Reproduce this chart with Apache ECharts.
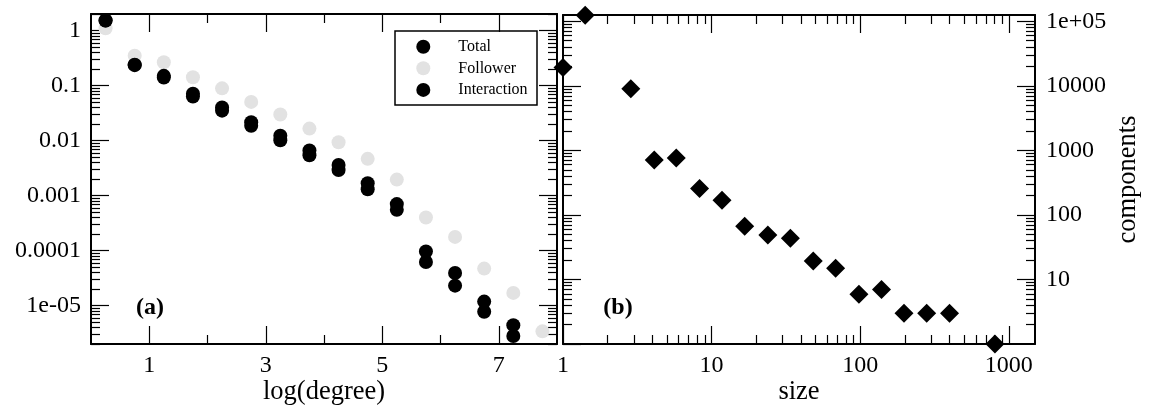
<!DOCTYPE html>
<html><head><meta charset="utf-8">
<script src="https://cdn.jsdelivr.net/npm/echarts@6/dist/echarts.min.js"></script>
<style>html,body{margin:0;padding:0;background:#fff}#c{width:1155px;height:407px}</style>
</head><body><div id="c"></div>
<script>
// ---------- data (a): degree distributions ----------
const degreeX      = [0.25,0.75,1.25,1.75,2.25,2.75,3.25,3.75,4.25,4.75,5.25,5.75,6.25,6.75,7.25];
const totalY       = [1.52,0.24,0.15,0.071,0.040,0.0215,0.0122,0.0066,0.0036,0.00167,0.0007,9.6e-5,3.9e-5,1.18e-5,4.4e-6];
const interactionY = [1.52,0.235,0.14,0.063,0.035,0.0185,0.0101,0.0054,0.0029,0.0013,0.00055,6.2e-5,2.3e-5,7.7e-6,2.8e-6];
const followerX    = [0.25,0.75,1.25,1.75,2.25,2.75,3.25,3.75,4.25,4.75,5.25,5.75,6.25,6.75,7.25,7.75];
const followerY    = [1.1,0.35,0.265,0.142,0.089,0.0505,0.0297,0.0165,0.0093,0.00465,0.00195,0.0004,0.000177,4.7e-5,1.7e-5,3.4e-6];
// ---------- data (b): component sizes ----------
const componentSize  = [1.41,1,2.86,4.11,5.78,8.3,11.75,16.7,23.9,33.9,48.3,68.3,98,139,197,280,399,806];
const componentCount = [124000,19200,8980,707,760,257,169,67,49,43.5,19.3,14.9,5.9,7.0,3,3,3,1];
// ---------- tick labels ----------
const degreeMajor = [1,3,5,7];
const degreeMinor = [2,4,6];
const probTicks   = [1e-5,1e-4,1e-3,0.01,0.1,1];
const probLabels  = ['1e-05','0.0001','0.001','0.01','0.1','1'];
const sizeTicks   = [1,10,100,1000];
const sizeLabels  = ['1','10','100','1000'];
const countTicks  = [10,100,1000,10000,100000];
const countLabels = ['10','100','1000','10000','1e+05'];
const legendNames = ['Total','Follower','Interaction'];

const FONT = 'Liberation Serif';
const L = Math.log10;
const zip = (xs, ys) => xs.map((x, i) => [x, ys[i]]);
function minors(lo, hi) {
  const out = [];
  for (let d = -7; d <= 6; d++) for (let k = 2; k <= 9; k++) {
    const v = L(k) + d;
    if (v >= L(lo) - 1e-9 && v <= L(hi) + 1e-9) out.push(v);
  }
  return out;
}
function fmt(vals, labels) {
  return v => { for (let i = 0; i < vals.length; i++) if (Math.abs(L(vals[i]) - v) < 1e-6) return labels[i]; return ''; };
}
function tickAxis(o) {
  return {
    type: 'value', gridIndex: o.grid, position: o.pos, min: o.min, max: o.max,
    axisLine: {show: !!o.line, onZero: false, lineStyle: {color: '#000', width: 2}},
    axisTick: {show: true, inside: true, length: o.len, customValues: o.ticks, lineStyle: {color: '#000', width: 1.2}},
    axisLabel: o.labels ? {show: true, customValues: o.ticks, formatter: o.fmt, margin: o.margin,
      padding: o.pad || 0, color: '#000', fontFamily: FONT, fontSize: 24} : {show: false},
    splitLine: {show: false},
    name: o.name || '', nameLocation: 'middle', nameGap: o.nameGap || 0, nameRotate: o.nameRotate,
    nameMoveOverlap: false,
    nameTextStyle: {fontFamily: FONT, fontSize: 26.5, color: '#000'},
    silent: true
  };
}
const yMin0 = 2e-6, yMax0 = 2;
const xMin1 = 1, xMax1 = 1500;
const yMin1 = 1, yMax1 = 125000;

const xAxes = [
  tickAxis({grid:0, pos:'bottom', min:0, max:8, ticks:degreeMajor, len:18, line:true, labels:true, margin:10, name:'log(degree)', nameGap:35}),
  tickAxis({grid:0, pos:'bottom', min:0, max:8, ticks:degreeMinor, len:9}),
  tickAxis({grid:0, pos:'top', min:0, max:8, ticks:degreeMajor, len:18, line:true}),
  tickAxis({grid:0, pos:'top', min:0, max:8, ticks:degreeMinor, len:9}),
  {type:'log', gridIndex:1, min:xMin1, max:xMax1, show:false},
  tickAxis({grid:1, pos:'bottom', min:L(xMin1), max:L(xMax1), ticks:sizeTicks.map(L), len:18, line:true, labels:true, margin:10, fmt:fmt(sizeTicks,sizeLabels), name:'size', nameGap:35}),
  tickAxis({grid:1, pos:'bottom', min:L(xMin1), max:L(xMax1), ticks:minors(xMin1,xMax1), len:9}),
  tickAxis({grid:1, pos:'top', min:L(xMin1), max:L(xMax1), ticks:sizeTicks.map(L), len:18, line:true}),
  tickAxis({grid:1, pos:'top', min:L(xMin1), max:L(xMax1), ticks:minors(xMin1,xMax1), len:9})
];
const yAxes = [
  {type:'log', gridIndex:0, min:yMin0, max:yMax0, show:false},
  tickAxis({grid:0, pos:'left', min:L(yMin0), max:L(yMax0), ticks:probTicks.map(L), len:18, line:true, labels:true, margin:10, pad:[5,0,0,0], fmt:fmt(probTicks,probLabels)}),
  tickAxis({grid:0, pos:'left', min:L(yMin0), max:L(yMax0), ticks:minors(yMin0,yMax0), len:9}),
  tickAxis({grid:0, pos:'right', min:L(yMin0), max:L(yMax0), ticks:probTicks.map(L), len:18, line:true}),
  tickAxis({grid:0, pos:'right', min:L(yMin0), max:L(yMax0), ticks:minors(yMin0,yMax0), len:9}),
  {type:'log', gridIndex:1, min:yMin1, max:yMax1, show:false},
  tickAxis({grid:1, pos:'right', min:L(yMin1), max:L(yMax1), ticks:countTicks.map(L), len:18, line:true, labels:true, margin:11, pad:[9,0,0,0], fmt:fmt(countTicks,countLabels), name:'components', nameGap:80, nameRotate:90}),
  tickAxis({grid:1, pos:'right', min:L(yMin1), max:L(yMax1), ticks:minors(yMin1,yMax1), len:9}),
  tickAxis({grid:1, pos:'left', min:L(yMin1), max:L(yMax1), ticks:[1].concat(countTicks).map(L), len:18, line:true}),
  tickAxis({grid:1, pos:'left', min:L(yMin1), max:L(yMax1), ticks:minors(yMin1,yMax1), len:9})
];

const chart = echarts.init(document.getElementById('c'), null, {renderer:'canvas'});
chart.setOption({
  animation: false,
  backgroundColor: '#fff',
  grid: [
    {left:91, top:14, width:466, height:330, containLabel:false, outerBoundsMode:'none'},
    {left:563, top:15, width:472, height:329, containLabel:false, outerBoundsMode:'none'}
  ],
  xAxis: xAxes,
  yAxis: yAxes,
  legend: {
    data: legendNames, orient:'vertical', left:416.3, top:38.7, padding:0,
    itemWidth:60, itemHeight:14, itemGap:5.6, icon:'circle', selectedMode:false,
    textStyle: {fontFamily: FONT, fontSize: 16, color:'#000'}
  },
  graphic: [
    {type:'rect', shape:{x:395, y:31, width:142, height:74}, style:{fill:'none', stroke:'#000', lineWidth:1.5}, z:10, silent:true},
    {type:'text', x:150, y:308, style:{text:'(a)', font:'bold 24px "Liberation Serif"', fill:'#000', align:'center', verticalAlign:'middle'}},
    {type:'text', x:618, y:308, style:{text:'(b)', font:'bold 24px "Liberation Serif"', fill:'#000', align:'center', verticalAlign:'middle'}}
  ],
  series: [
    {type:'scatter', name:'Follower', xAxisIndex:0, yAxisIndex:0, data: zip(followerX, followerY),
     symbol:'circle', symbolSize:14, itemStyle:{color:'#e2e2e2', opacity:1}, clip:false, z:2},
    {type:'scatter', name:'Total', xAxisIndex:0, yAxisIndex:0, data: zip(degreeX, totalY),
     symbol:'circle', symbolSize:14, itemStyle:{color:'#000', opacity:1}, clip:false, z:3},
    {type:'scatter', name:'Interaction', xAxisIndex:0, yAxisIndex:0, data: zip(degreeX, interactionY),
     symbol:'circle', symbolSize:14, itemStyle:{color:'#000', opacity:1}, clip:false, z:3},
    {type:'scatter', name:'components', xAxisIndex:4, yAxisIndex:5, data: zip(componentSize, componentCount),
     symbol:'diamond', symbolSize:19, itemStyle:{color:'#000', opacity:1}, clip:false, z:3}
  ]
});
</script></body></html>
